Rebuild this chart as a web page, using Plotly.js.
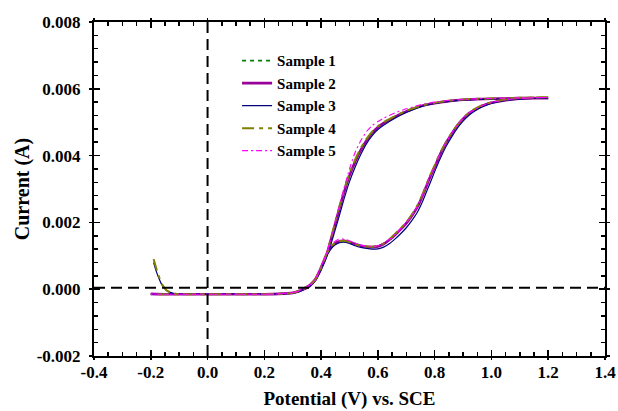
<!DOCTYPE html>
<html>
<head>
<meta charset="utf-8">
<script src="https://cdn.plot.ly/plotly-3.0.1.min.js"></script>
<style>html,body{margin:0;padding:0;background:#fff;}#chart{width:618px;height:411px;}</style>
</head>
<body>
<div id="chart"></div>
<script>
// ---- Data (potential in V, current in A) ----
const seriesNames = ["Sample 1", "Sample 2", "Sample 3", "Sample 4", "Sample 5"];

// forward scan potentials (common grid after the start segment)
const fwdV = [-0.10, 0.00, 0.10, 0.20, 0.25, 0.30, 0.32, 0.34, 0.36, 0.38,
              0.40, 0.42, 0.44, 0.46, 0.48, 0.50, 0.52, 0.54, 0.56, 0.58,
              0.60, 0.62, 0.64, 0.66, 0.68, 0.70, 0.72, 0.74, 0.76, 0.78,
              0.80, 0.82, 0.84, 0.86, 0.88, 0.90, 0.92, 0.94, 0.96, 0.98,
              1.00, 1.05, 1.10, 1.15, 1.20];
// return scan potentials
const retV = [1.20, 1.15, 1.10, 1.05, 1.00, 0.95, 0.90, 0.85, 0.80, 0.75,
              0.70, 0.66, 0.62, 0.60, 0.58, 0.56, 0.54, 0.52, 0.50, 0.48,
              0.46, 0.44, 0.42, 0.40, 0.38, 0.36, 0.34, 0.32, 0.30, 0.25,
              0.20, 0.10, 0.00, -0.10, -0.20];

// start segments
const start1V = [-0.20, -0.15];
const start1I = [-0.00014, -0.00015];
const start2V = [-0.20, -0.15];
const start2I = [-0.00014, -0.00015];
const start3V = [-0.19, -0.18, -0.17, -0.16, -0.15, -0.14, -0.12];
const start3I = [0.00080, 0.00052, 0.00030, 0.00012, 0.00001, -0.00007, -0.00012];
const start4V = [-0.19, -0.18, -0.17, -0.16, -0.15, -0.14, -0.12];
const start4I = [0.00090, 0.00060, 0.00035, 0.00015, 0.00002, -0.00006, -0.00012];
const start5V = [-0.20, -0.15];
const start5I = [-0.00014, -0.00015];

// forward currents
const fwd1I = [-0.00015, -0.00015, -0.00015, -0.00015, -0.00014, -0.00011, -0.00006, 0.00002, 0.00013, 0.00031,
               0.00066, 0.00106, 0.00131, 0.00143, 0.00146, 0.00142, 0.00136, 0.00131, 0.00128, 0.00127,
               0.00129, 0.00136, 0.00148, 0.00163, 0.00180, 0.00198, 0.00221, 0.00249, 0.00287, 0.00330,
               0.00368, 0.00406, 0.00439, 0.00466, 0.00491, 0.00511, 0.00526, 0.00537, 0.00546, 0.00553,
               0.00558, 0.00566, 0.00570, 0.00572, 0.00573];
const fwd2I = [-0.00015, -0.00015, -0.00015, -0.00015, -0.00014, -0.00011, -0.00006, 0.00002, 0.00012, 0.00030,
               0.00065, 0.00105, 0.00130, 0.00142, 0.00145, 0.00141, 0.00135, 0.00130, 0.00127, 0.00126,
               0.00128, 0.00135, 0.00147, 0.00162, 0.00179, 0.00197, 0.00220, 0.00247, 0.00285, 0.00328,
               0.00366, 0.00405, 0.00438, 0.00465, 0.00490, 0.00510, 0.00526, 0.00537, 0.00546, 0.00553,
               0.00558, 0.00566, 0.00570, 0.00572, 0.00572];
const fwd3I = [-0.00015, -0.00015, -0.00015, -0.00015, -0.00014, -0.00012, -0.00007, 0.00000, 0.00010, 0.00027,
               0.00060, 0.00100, 0.00126, 0.00138, 0.00141, 0.00137, 0.00130, 0.00125, 0.00122, 0.00120,
               0.00121, 0.00126, 0.00136, 0.00150, 0.00166, 0.00184, 0.00206, 0.00232, 0.00268, 0.00310,
               0.00352, 0.00392, 0.00427, 0.00456, 0.00482, 0.00503, 0.00520, 0.00533, 0.00543, 0.00550,
               0.00556, 0.00565, 0.00569, 0.00571, 0.00571];
const fwd4I = [-0.00015, -0.00015, -0.00015, -0.00015, -0.00014, -0.00011, -0.00005, 0.00003, 0.00013, 0.00032,
               0.00067, 0.00107, 0.00132, 0.00143, 0.00145, 0.00141, 0.00135, 0.00130, 0.00128, 0.00127,
               0.00130, 0.00137, 0.00149, 0.00165, 0.00182, 0.00200, 0.00224, 0.00252, 0.00290, 0.00333,
               0.00371, 0.00409, 0.00441, 0.00468, 0.00492, 0.00512, 0.00528, 0.00539, 0.00548, 0.00555,
               0.00560, 0.00568, 0.00572, 0.00574, 0.00575];
const fwd5I = [-0.00015, -0.00015, -0.00015, -0.00015, -0.00014, -0.00010, -0.00005, 0.00003, 0.00014, 0.00033,
               0.00068, 0.00110, 0.00137, 0.00149, 0.00150, 0.00145, 0.00138, 0.00132, 0.00129, 0.00128,
               0.00130, 0.00137, 0.00149, 0.00164, 0.00181, 0.00199, 0.00222, 0.00250, 0.00288, 0.00331,
               0.00369, 0.00407, 0.00440, 0.00467, 0.00492, 0.00512, 0.00527, 0.00538, 0.00547, 0.00554,
               0.00559, 0.00567, 0.00571, 0.00573, 0.00574];

// return currents
const ret1I = [0.00573, 0.00572, 0.00572, 0.00571, 0.00570, 0.00569, 0.00567, 0.00563, 0.00557, 0.00548,
               0.00532, 0.00516, 0.00497, 0.00485, 0.00468, 0.00445, 0.00417, 0.00381, 0.00339, 0.00287,
               0.00227, 0.00164, 0.00104, 0.00062, 0.00028, 0.00010, 0.00000, -0.00007, -0.00011, -0.00014,
               -0.00015, -0.00015, -0.00015, -0.00015, -0.00015];
const ret2I = [0.00572, 0.00572, 0.00572, 0.00571, 0.00570, 0.00569, 0.00567, 0.00563, 0.00557, 0.00548,
               0.00532, 0.00516, 0.00497, 0.00485, 0.00468, 0.00445, 0.00417, 0.00382, 0.00340, 0.00288,
               0.00228, 0.00165, 0.00105, 0.00062, 0.00028, 0.00010, 0.00000, -0.00007, -0.00011, -0.00014,
               -0.00015, -0.00015, -0.00015, -0.00015, -0.00015];
const ret3I = [0.00571, 0.00571, 0.00571, 0.00570, 0.00569, 0.00568, 0.00566, 0.00562, 0.00556, 0.00546,
               0.00529, 0.00512, 0.00491, 0.00478, 0.00460, 0.00436, 0.00404, 0.00366, 0.00322, 0.00268,
               0.00208, 0.00150, 0.00097, 0.00058, 0.00026, 0.00008, -0.00001, -0.00008, -0.00012, -0.00014,
               -0.00015, -0.00015, -0.00015, -0.00015, -0.00015];
const ret4I = [0.00575, 0.00574, 0.00573, 0.00572, 0.00571, 0.00570, 0.00568, 0.00564, 0.00558, 0.00549,
               0.00534, 0.00518, 0.00500, 0.00488, 0.00472, 0.00450, 0.00423, 0.00388, 0.00347, 0.00295,
               0.00234, 0.00170, 0.00108, 0.00064, 0.00029, 0.00011, 0.00001, -0.00006, -0.00011, -0.00014,
               -0.00015, -0.00015, -0.00015, -0.00015, -0.00015];
const ret5I = [0.00574, 0.00573, 0.00573, 0.00572, 0.00571, 0.00570, 0.00568, 0.00565, 0.00560, 0.00552,
               0.00540, 0.00528, 0.00512, 0.00502, 0.00490, 0.00472, 0.00445, 0.00410, 0.00360, 0.00300,
               0.00235, 0.00170, 0.00110, 0.00066, 0.00030, 0.00012, 0.00001, -0.00006, -0.00010, -0.00014,
               -0.00015, -0.00015, -0.00015, -0.00015, -0.00015];

// reference dashed lines
const vLineX = [0, 0];
const vLineY = [-0.002, 0.008];
const hLineX = [-0.4, 1.4];
const hLineY = [0.00004, 0.00004];

// ticks
const xTickVals = [-0.4, -0.2, 0.0, 0.2, 0.4, 0.6, 0.8, 1.0, 1.2, 1.4];
const xTickText = ["-0.4", "-0.2", "0.0", "0.2", "0.4", "0.6", "0.8", "1.0", "1.2", "1.4"];
const yTickVals = [-0.002, 0.000, 0.002, 0.004, 0.006, 0.008];
const yTickText = ["-0.002", "0.000", "0.002", "0.004", "0.006", "0.008"];

// ---- Build traces ----
const FONT = "Liberation Serif, Times New Roman, serif";
const starts = [[start1V, start1I], [start2V, start2I], [start3V, start3I], [start4V, start4I], [start5V, start5I]];
const fwds = [fwd1I, fwd2I, fwd3I, fwd4I, fwd5I];
const rets = [ret1I, ret2I, ret3I, ret4I, ret5I];
const styles = [
  {color: "#008000", width: 1.6, dash: "4px,4px"},
  {color: "#990099", width: 2.6, dash: "solid"},
  {color: "#000080", width: 1.2, dash: "solid"},
  {color: "#808000", width: 2.0, dash: "12px,5px,4px,5px"},
  {color: "#FF00FF", width: 1.1, dash: "6px,3px,2px,3px"}
];

const traces = [
  {x: vLineX, y: vLineY, xaxis: "x2", yaxis: "y2", mode: "lines", showlegend: false, hoverinfo: "skip",
   line: {color: "#000", width: 2, dash: "11px,6px"}},
  {x: hLineX, y: hLineY, xaxis: "x2", yaxis: "y2", mode: "lines", showlegend: false, hoverinfo: "skip",
   line: {color: "#000", width: 2, dash: "11px,6px"}}
];
for (let k = 0; k < 5; k++) {
  traces.push({
    x: starts[k][0].concat(fwdV, retV),
    y: starts[k][1].concat(fwds[k], rets[k]),
    name: seriesNames[k],
    mode: "lines",
    line: Object.assign({shape: "spline", smoothing: 0.6}, styles[k])
  });
}

const tickFont = {family: FONT, size: 17, color: "#000", weight: "bold"};
const layout = {
  width: 618, height: 411,
  margin: {l: 94, r: 13, t: 22, b: 55},
  paper_bgcolor: "#fff", plot_bgcolor: "#fff",
  showlegend: true,
  legend: {x: 0.28, y: 0.933, xanchor: "left", yanchor: "top", bgcolor: "rgba(0,0,0,0)",
           font: {family: FONT, size: 15, color: "#000", weight: "bold"}, itemwidth: 30},
  xaxis: {range: [-0.4, 1.4], tickmode: "array", tickvals: xTickVals, ticktext: xTickText,
          ticks: "inside", ticklen: 6, tickwidth: 1.5, tickcolor: "#000",
          showline: true, linewidth: 2, linecolor: "#000", mirror: "ticks",
          showgrid: false, zeroline: false, tickfont: tickFont, ticklabelstandoff: 0,
          minor: {tickmode: "linear", tick0: -0.4, dtick: 0.05, ticks: "inside", ticklen: 4, tickwidth: 1.5, tickcolor: "#000", showgrid: false},
          title: {text: "Potential (V) vs. SCE", font: {family: FONT, size: 19, color: "#000", weight: "bold"}, standoff: 10}},
  yaxis: {range: [-0.002, 0.008], tickmode: "array", tickvals: yTickVals, ticktext: yTickText,
          ticks: "inside", ticklen: 6, tickwidth: 1.5, tickcolor: "#000",
          showline: true, linewidth: 2, linecolor: "#000", mirror: "ticks",
          showgrid: false, zeroline: false, tickfont: tickFont, ticklabelstandoff: 8,
          minor: {tickmode: "linear", tick0: -0.002, dtick: 0.0004, ticks: "inside", ticklen: 4, tickwidth: 1.5, tickcolor: "#000", showgrid: false},
          title: {text: "Current (A)", font: {family: FONT, size: 20, color: "#000", weight: "bold"}, standoff: 2}},
  xaxis2: {range: [-0.4, 1.4], overlaying: "x", anchor: "y2", side: "bottom", tickmode: "array", tickvals: xTickVals,
           ticks: "outside", ticklen: 3, tickwidth: 1.5, tickcolor: "#000", showticklabels: false,
           showline: false, mirror: "ticks", showgrid: false, zeroline: false},
  yaxis2: {range: [-0.002, 0.008], overlaying: "y", anchor: "x2", side: "left", tickmode: "array", tickvals: yTickVals,
           ticks: "outside", ticklen: 4, tickwidth: 1.5, tickcolor: "#000", showticklabels: false,
           showline: false, mirror: "ticks", showgrid: false, zeroline: false}
};

Plotly.newPlot("chart", traces, layout, {staticPlot: true, displayModeBar: false});
</script>
</body>
</html>
